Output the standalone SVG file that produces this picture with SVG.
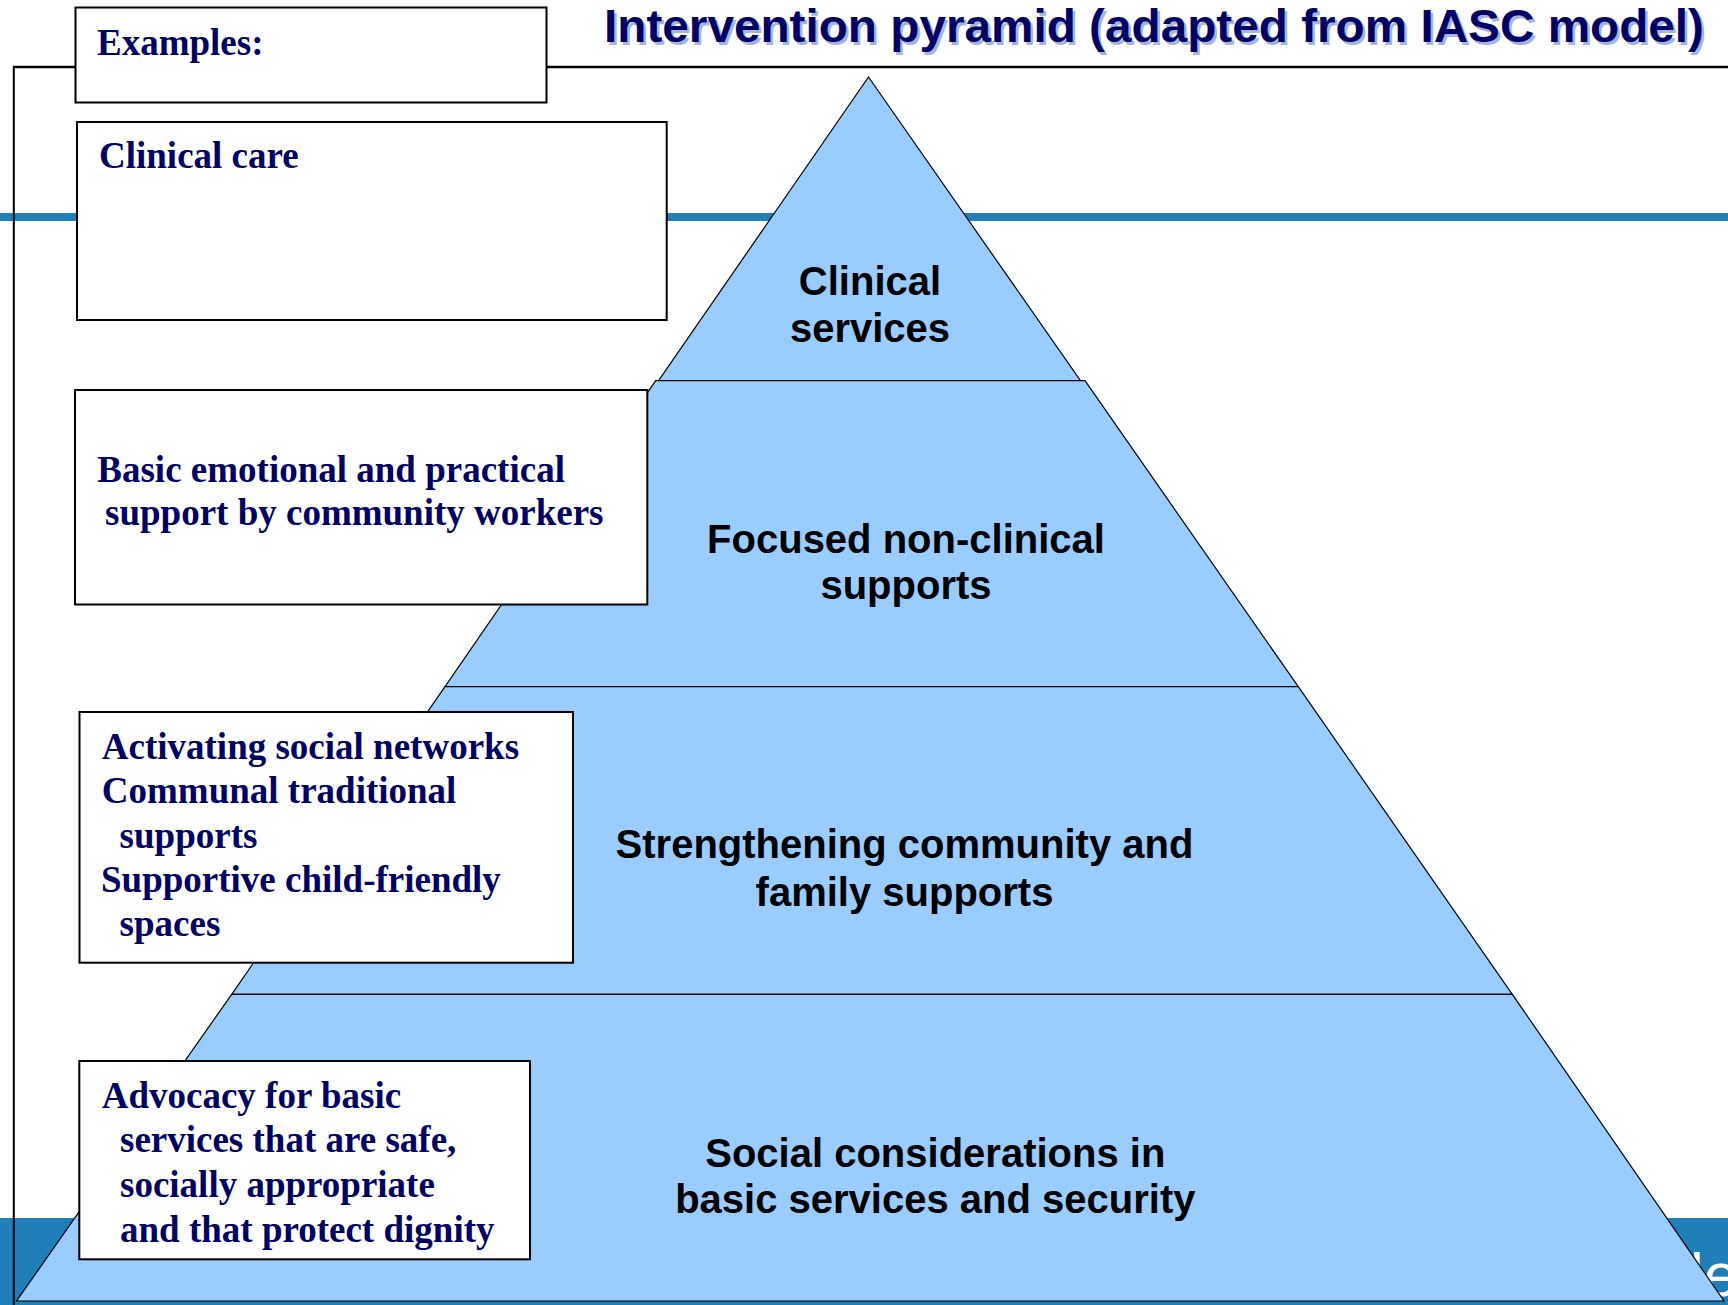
<svg xmlns="http://www.w3.org/2000/svg" width="1728" height="1305" viewBox="0 0 1728 1305">
<style>
.box{fill:#fff;stroke:#000;stroke-width:2}
.tier{fill:#99CCFF;stroke:#000;stroke-width:1.2;stroke-linejoin:miter}
.bt{font-family:"Liberation Serif","Times New Roman",serif;font-weight:bold;font-size:37px;fill:#000066}
.pt{font-family:"Liberation Sans",Arial,sans-serif;font-weight:bold;font-size:40px;fill:#000;text-anchor:middle}
.title{font-family:"Liberation Sans",Arial,sans-serif;font-weight:bold;font-size:47px}
</style>
<rect x="0" y="0" width="1728" height="1305" fill="#fff"/>
<g id="background">
<rect x="0" y="213" width="1728" height="8" fill="#1F7FB8"/>
<rect x="0" y="1218" width="1728" height="87" fill="#1F7FB8"/>
<text x="1690" y="1296" font-family="'Liberation Sans',Arial,sans-serif" font-size="62" fill="#fff">le</text>
<line x1="13" y1="67" x2="1728" y2="67" stroke="#000" stroke-width="2.5"/>
<line x1="13.8" y1="66" x2="13.8" y2="1305" stroke="#000" stroke-width="2"/>
</g>
<g id="title">
<text class="title" x="606.5" y="45" fill="#A3B5DA" textLength="1100" lengthAdjust="spacingAndGlyphs">Intervention pyramid (adapted from IASC model)</text>
<text class="title" x="604" y="42" fill="#000066" textLength="1100" lengthAdjust="spacingAndGlyphs">Intervention pyramid (adapted from IASC model)</text>
</g>
<g id="connectors"></g>
<g id="tier-clinical">
<polygon class="tier" points="868.5,77 1080.5,380.7 658.5,380.7"/>
<text class="pt" x="870" y="295">Clinical</text>
<text class="pt" x="870" y="341.7">services</text>
</g>
<g id="tier-focused">
<polygon class="tier" points="655.7,380.7 1085,380.7 1298.3,686.7 445,686.7"/>
<text class="pt" x="906" y="552.7">Focused non-clinical</text>
<text class="pt" x="906" y="599.3">supports</text>
</g>
<g id="tier-community">
<polygon class="tier" points="445,686.7 1298.3,686.7 1512.3,994.3 231.7,994.3"/>
<text class="pt" x="904.5" y="858.3">Strengthening community and</text>
<text class="pt" x="904.5" y="905.5">family supports</text>
</g>
<g id="tier-social">
<polygon class="tier" points="231.7,994.3 1512.3,994.3 1724,1301 16.5,1301"/>
<text class="pt" x="935.3" y="1166.7">Social considerations in</text>
<text class="pt" x="935.3" y="1213.3">basic services and security</text>
</g>
<g id="box-examples">
<rect class="box" x="75.5" y="7.5" width="471" height="95"/>
<text class="bt" x="97" y="54.5">Examples:</text>
</g>
<g id="box-clinical-care">
<rect class="box" x="77" y="122" width="589.7" height="198"/>
<text class="bt" x="99" y="168">Clinical care</text>
</g>
<g id="box-basic-support">
<rect class="box" x="75" y="390" width="572.3" height="214.5"/>
<text class="bt" x="97.3" y="482">Basic emotional and practical</text>
<text class="bt" x="105" y="525">support by community workers</text>
</g>
<g id="box-social-networks">
<rect class="box" x="79.5" y="712" width="493.5" height="250.7"/>
<text class="bt" x="101.8" y="759">Activating social networks</text>
<text class="bt" x="101.8" y="803.3">Communal traditional</text>
<text class="bt" x="119.6" y="847.6">supports</text>
<text class="bt" x="101" y="892">Supportive child-friendly</text>
<text class="bt" x="119.6" y="936">spaces</text>
</g>
<g id="box-advocacy">
<rect class="box" x="79.3" y="1061" width="450.7" height="198.3"/>
<text class="bt" x="101.7" y="1108.3">Advocacy for basic</text>
<text class="bt" x="120" y="1152">services that are safe,</text>
<text class="bt" x="120" y="1196.7">socially appropriate</text>
<text class="bt" x="120" y="1241.5">and that protect dignity</text>
</g>
</svg>
